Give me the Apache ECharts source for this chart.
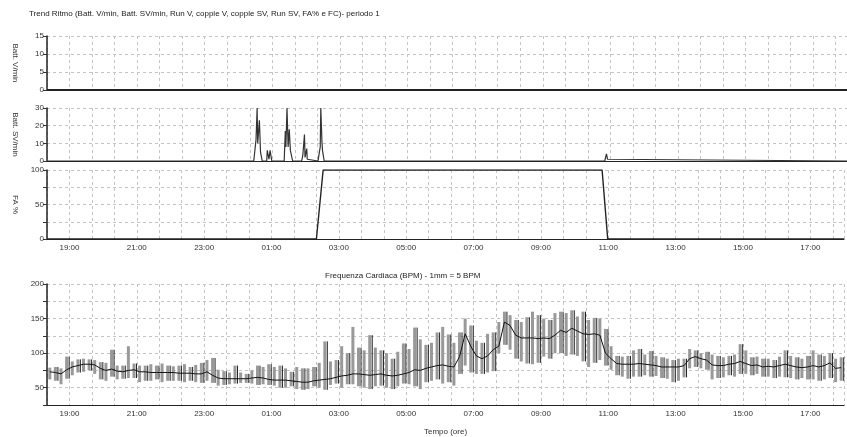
<!DOCTYPE html>
<html>
<head>
<meta charset="utf-8"/>
<title>Trend Ritmo</title>
<style>
  html,body{margin:0;padding:0;background:#fff;}
  #chart{width:847px;height:437px;}
</style>
</head>
<body>
<div id="chart"></div>
<script src="https://cdn.jsdelivr.net/npm/echarts@6/dist/echarts.min.js"></script>
<script>
// --- data (clock times, recording starts 18:20) ---
var bvTimes = ['18:20', '18:00'];
var bvValues = [0, 0];

var sbTimes = ['18:20','00:27','00:31','00:33','00:34','00:37','00:39','00:42',
  '00:50','00:51','00:52','00:54','00:56','00:58','00:59',
  '01:21','01:23','01:24','01:26','01:28','01:30','01:32','01:36',
  '01:52','01:54','01:57','01:58','02:01','02:02','02:04',
  '02:21','02:25','02:26','02:28','02:29','02:32',
  '10:50','10:53','10:55','10:57','18:00'];
var sbValues = [0,0,12,30,10,23,5,0,
  0,6,6,1,6,6,0,
  0,17,8,30,8,18,6,0,
  0,3,15,2,7,1,0,
  0,8,30,11,6,0,
  0,4,1,0,0];

var faTimes = ['18:20', '02:20', '02:32', '10:49', '10:59', '18:00'];
var faValues = [0, 0, 100, 100, 0, 0];

// heart rate, one slot every 10 min starting 18:25
var hrStart = '18:25';
var hrStep = 10;
var hrMean = [73,72,70,76,80,82,84,84,83,78,75,77,74,73,75,76,73,73,72,72,72,72,72,
  71,71,71,70,70,73,68,64,63,63,63,63,63,64,65,64,62,61,61,61,60,59,58,58,
  60,61,62,63,65,67,68,70,70,69,68,69,70,68,67,68,70,72,76,75,78,80,82,83,
  81,80,95,128,110,96,92,96,105,110,145,140,126,122,122,122,121,122,121,126,133,130,136,
  132,128,127,128,126,100,92,85,84,84,84,85,84,83,82,80,80,80,80,82,92,95,92,90,
  83,82,82,84,85,88,85,82,83,80,81,80,82,84,82,80,79,80,82,80,82,86,78,79];
var hrMin = [62,60,55,63,68,72,73,75,70,62,60,66,62,63,64,64,58,60,60,62,58,60,60,
  60,58,60,58,57,60,57,53,54,55,56,57,57,56,54,55,54,53,50,50,52,48,47,48,
  52,50,47,54,56,50,55,55,52,50,48,52,53,50,48,52,56,55,52,48,58,60,62,56,
  58,53,70,82,72,70,70,72,74,100,112,105,92,88,85,84,86,95,92,100,100,96,98,
  96,88,80,86,90,82,76,68,66,63,66,66,68,66,67,64,63,58,60,65,78,80,78,76,
  62,64,65,68,66,70,70,68,70,66,66,64,66,65,64,62,64,62,62,60,62,64,58,60];
var hrMax = [79,80,78,95,88,91,92,91,90,87,86,105,82,82,110,85,82,82,84,82,85,82,81,
  82,84,80,83,86,90,93,76,74,72,82,72,70,75,82,80,84,80,82,78,73,80,78,78,
  80,86,117,88,90,110,100,138,108,104,126,108,104,100,92,102,114,106,137,120,112,115,130,138,
  127,115,130,150,140,118,115,128,130,145,160,155,148,145,152,160,155,150,148,158,160,158,162,
  153,160,148,151,150,135,110,96,95,96,104,106,98,103,96,94,92,90,92,92,106,104,100,102,
  98,96,94,96,98,113,104,94,95,92,92,90,95,104,96,94,92,96,104,98,96,100,92,94];

// minutes from 18:20
function toT(s) {
  var p = s.split(':');
  var m = (+p[0]) * 60 + (+p[1]);
  if (m < 1100) m += 1440;
  return m - 1100;
}
function pairs(times, vals) {
  return times.map(function (t, i) { return [toT(t), vals[i]]; });
}
function clockLabel(v) {
  if (v < 40 || (v - 40) % 120 !== 0) return '';
  var h = Math.floor((1100 + v) / 60) % 24;
  return (h < 10 ? '0' : '') + h + ':00';
}

var hr0 = toT(hrStart);
var hrRange = hrMean.map(function (m, i) { return [hr0 + i * hrStep, hrMin[i], hrMax[i]]; });
var hrLine = hrMean.map(function (m, i) { return [hr0 + i * hrStep, m]; });

var font = 'Liberation Sans';
var txt = {fontSize: 8, color: '#333', fontFamily: font};
var grid = {type: [3, 3], color: '#c4c4c4', width: 1};

function xAx(idx, labels, name) {
  return {
    type: 'value', gridIndex: idx, min: 0, max: 1420, interval: 40,
    axisLine: {show: true, onZero: false, lineStyle: {color: '#222', width: 1.2}},
    axisTick: {show: false},
    axisLabel: {show: labels, formatter: clockLabel, margin: 5, fontSize: 8, color: '#333', fontFamily: font},
    splitLine: {show: true, lineStyle: grid},
    name: name || '', nameLocation: 'middle', nameGap: 23, nameTextStyle: txt
  };
}
function yAx(idx, min, max, step, labelStep, name) {
  return {
    type: 'value', gridIndex: idx, min: min, max: max, interval: step,
    axisLine: {show: true, lineStyle: {color: '#222', width: 1.5}},
    axisTick: {show: true, length: 4, lineStyle: {color: '#333'}},
    axisLabel: {margin: 3, fontSize: 8, color: '#333', fontFamily: font,
      formatter: function (v) { return v % labelStep === 0 && v > 0 || v === 0 && min === 0 ? v : ''; }},
    splitLine: {show: true, lineStyle: grid},
    name: name, nameLocation: 'middle', nameRotate: -90, nameGap: 28, nameTextStyle: txt
  };
}

var chart = echarts.init(document.getElementById('chart'));
chart.setOption({
  animation: false,
  backgroundColor: '#fff',
  title: [
    {text: 'Trend Ritmo (Batt. V/min, Batt. SV/min, Run V, copple V, copple SV, Run SV, FA% e FC)- periodo 1',
      left: 24, top: 5, textStyle: {fontSize: 8, fontWeight: 'normal', color: '#222', fontFamily: font}},
    {text: 'Frequenza Cardiaca (BPM) - 1mm = 5 BPM',
      left: 320, top: 267, textStyle: {fontSize: 8, fontWeight: 'normal', color: '#222', fontFamily: font}}
  ],
  grid: [
    {left: 47, right: 0, top: 36, height: 54},
    {left: 47, right: 0, top: 108, height: 53},
    {left: 47, right: 0, top: 170, height: 69},
    {left: 47, right: 0, top: 284, height: 122}
  ],
  xAxis: [xAx(0, false), xAx(1, false), xAx(2, true), xAx(3, true, 'Tempo (ore)')],
  yAxis: [
    yAx(0, 0, 15, 5, 5, 'Batt. V/min'),
    yAx(1, 0, 30, 10, 10, 'Batt. SV/min'),
    yAx(2, 0, 100, 25, 50, 'FA %'),
    yAx(3, 25, 200, 25, 50, '')
  ],
  series: [
    {type: 'line', xAxisIndex: 0, yAxisIndex: 0, data: pairs(bvTimes, bvValues), showSymbol: false,
      lineStyle: {color: '#222', width: 2}},
    {type: 'line', xAxisIndex: 1, yAxisIndex: 1, data: pairs(sbTimes, sbValues), showSymbol: false,
      lineStyle: {color: '#333', width: 1.2}},
    {type: 'line', xAxisIndex: 2, yAxisIndex: 2, data: pairs(faTimes, faValues), showSymbol: false,
      lineStyle: {color: '#222', width: 1.4}},
    {type: 'custom', xAxisIndex: 3, yAxisIndex: 3, data: hrRange,
      renderItem: function (params, api) {
        var lo = api.coord([api.value(0), api.value(1)]);
        var hi = api.coord([api.value(0), api.value(2)]);
        var kids = [{type: 'rect', shape: {x: lo[0] - 1.5, y: hi[1], width: 3, height: lo[1] - hi[1]},
          style: {fill: '#999'}}];
        if (params.dataIndex % 2 === 1) {
          kids.push({type: 'line', shape: {x1: lo[0] + 2.5, y1: hi[1], x2: lo[0] + 2.5, y2: lo[1]},
            style: {stroke: '#222', lineWidth: 1}});
        }
        return {type: 'group', children: kids};
      }},
    {type: 'line', xAxisIndex: 3, yAxisIndex: 3, data: hrLine, showSymbol: false,
      lineStyle: {color: '#111', width: 1}}
  ]
});
</script>
</body>
</html>
